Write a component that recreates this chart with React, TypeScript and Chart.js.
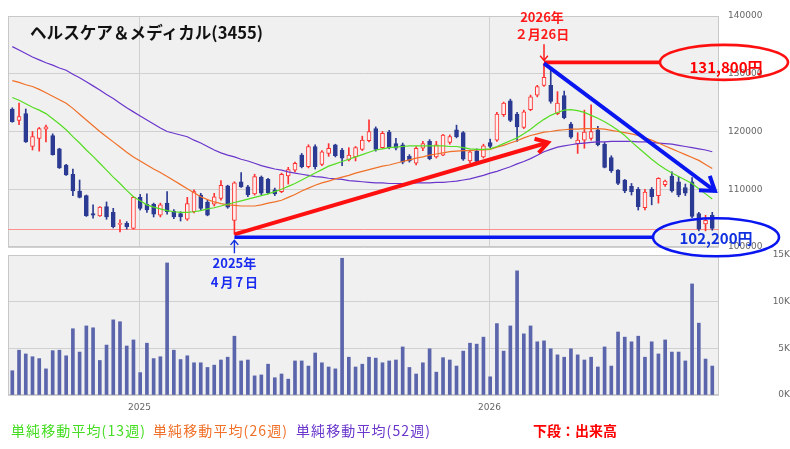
import React, { useEffect, useRef } from 'react';
import { Chart, registerables } from 'chart.js';

Chart.register(...registerables);

// ---- data (weekly candles, index 0 = first week shown) ----
const opens = [123900,121900,123100,117400,118800,120400,119300,117000,114200,112600,
109700,108900,105800,105400,107000,106000,103900,104100,103200,108600,
107400,107400,105500,107600,106200,105800,104800,106100,109000,107800,
107400,108400,110600,104600,111300,110400,109200,112100,111700,109900,
109600,112300,113300,115900,113900,117400,114300,116200,117700,116800,
115100,115600,116900,118400,120500,117200,119900,117900,117700,115700,
114500,117100,118300,115600,115900,118100,120300,119800,114900,116600,
115600,118100,118500,122900,125300,123000,120700,123800,126300,128000,
128000,123100,126200,121300,117900,118500,118800,120300,117800,115500,
113300,111600,110500,110000,106800,110000,108900,110800,112300,111300,
110300,111300,105800,104000,105500];

const highs = [124100,124900,123900,120000,120700,121100,119600,117100,114300,113500,
111600,109000,107300,107000,107800,106700,104700,104400,108700,109100,
109200,107600,107600,109600,106500,106100,108600,109900,109300,108100,
109300,111500,110700,111300,112900,110700,112600,112300,111900,110200,
112800,113800,114700,116200,117700,117700,116700,117900,117800,117100,
117200,117400,119200,122000,120800,120000,120200,118800,118000,116000,
117400,118300,118600,118300,119500,119400,121100,120000,116800,117000,
117800,118700,123300,125100,125600,123300,123700,126300,128000,131800,
130600,126900,127000,121600,119800,123700,124600,120900,118100,115800,
113400,111700,111000,110300,110000,110300,112000,111600,113000,112200,
110900,112000,106000,105500,106000];

const lows = [121600,121200,118100,116800,116600,118200,115900,113600,112400,108900,
108500,105300,105000,105300,104800,103300,102600,103100,103100,106400,
106000,105200,105200,105700,104900,104500,104600,105900,106400,105400,
107100,108100,106700,102200,110300,108700,109000,109000,109200,108900,
109400,110900,113000,113700,113700,113500,114100,115700,115600,114100,
114900,114900,116700,118200,116600,117100,117000,116800,114400,114700,
114200,116700,115100,115400,115800,117800,118900,115000,114600,114500,
115400,117200,118300,122600,121700,118300,120500,123600,126000,127800,
124900,122900,122200,118800,116200,117100,118500,117500,113700,112900,
110800,109400,109000,106400,106400,107300,107600,110500,109500,108700,
108900,105100,102800,102800,102900];

const closes = [121700,122600,118200,119100,120500,120800,116000,113700,112500,109700,
108600,105400,105500,106900,105200,103500,104100,103500,108600,106700,
106400,105700,107300,106100,105200,105200,107500,109600,106700,105500,
108700,110700,106900,111100,110400,109000,112200,109300,109400,109200,
112600,113400,114500,113900,117400,113900,116500,117100,115800,115400,
115900,117200,118500,120000,116900,119700,117200,117100,114700,114900,
117100,117900,115300,117700,119400,119100,119100,115200,116500,114800,
117500,117400,123000,124900,121900,120800,123400,126000,127800,129400,
125200,124900,122400,119000,118500,119900,120000,117700,113800,113200,
111000,109700,109600,107000,109500,108700,111900,111400,109700,109000,
109300,105300,103100,104600,103200];

const volumes = [2600,4800,4400,4100,3900,2800,4750,4800,4200,7100,
4600,7400,7200,3700,5350,8050,7850,5250,5900,2400,
5550,3900,4100,14150,4800,3800,4200,3450,3450,2950,
3200,3750,4050,6300,3650,3750,2050,2150,3300,1850,
2250,1700,3650,3650,3100,4500,3450,3000,2800,14650,
4050,3000,3300,4050,3950,3450,3650,3750,5150,2950,
2250,3450,4950,2450,4000,3750,3100,4700,5550,5450,
6200,1950,7650,4700,7400,13300,6550,7400,5700,5800,
4950,4300,4050,4950,4300,3750,4050,3000,5150,3100,
6750,6200,5700,6300,4050,5700,4400,5900,4600,4600,
3650,11900,7700,3850,3100];

const ma13 = [125900,125400,124800,124200,123700,123100,122200,121300,120300,119100,
118000,116800,115700,114500,113300,112100,111000,109800,108700,108000,
107300,106900,106600,106300,106100,106000,106000,106100,106300,106600,
106800,107100,107400,107700,108000,108300,108600,108900,109200,109600,
110000,110500,111000,111600,112200,112800,113400,114000,114400,114800,
115200,115600,116000,116400,116800,117000,117200,117300,117400,117500,
117500,117500,117500,117500,117500,117400,117400,117200,117000,116900,
116900,117000,117400,117900,118400,118900,119600,120400,121300,122100,
122800,123300,123700,123800,123600,123300,122800,122300,121700,121000,
120200,119300,118200,117200,116200,115200,114300,113500,112800,112200,
111600,111000,110100,109200,108300];

const ma26 = [128800,128500,128100,127800,127300,126700,126100,125500,124900,124000,
123000,122000,121000,120000,119100,118200,117300,116400,115600,114900,
114200,113500,112900,112200,111500,110800,110100,109400,108700,108200,
107800,107500,107300,107200,107100,107100,107100,107300,107600,107800,
108100,108600,109100,109700,110200,110700,111100,111400,111800,112100,
112400,112800,113100,113400,113700,114000,114200,114500,114800,115100,
115400,115600,115900,116100,116300,116500,116600,116700,116700,116800,
116800,116900,117300,117600,118000,118400,118900,119300,119600,119900,
120000,120200,120300,120400,120400,120500,120500,120500,120400,120200,
120000,119800,119600,119300,118900,118500,118000,117500,117000,116500,
116000,115500,115000,114300,113600];

const ma52 = [134700,134100,133500,132900,132400,131900,131500,131000,130600,129900,
129300,128600,127900,127200,126400,125700,124900,124100,123400,122700,
122000,121300,120600,120000,119700,119400,119100,118500,118000,117400,
116800,116300,115900,115600,115200,114900,114500,114100,113800,113500,
113300,113000,112800,112600,112400,112200,112100,111900,111800,111700,
111500,111400,111300,111200,111100,111100,111000,111000,111000,111000,
111100,111100,111100,111200,111200,111300,111400,111600,111800,112100,
112400,112800,113100,113500,113900,114400,114800,115300,115900,116500,
116900,117300,117500,117700,117900,118000,118100,118200,118200,118300,
118300,118300,118300,118200,118200,118100,118000,117900,117800,117600,
117400,117200,117000,116800,116500];

const yearTickPositions = [18.9, 70.9];
const yearTickLabels = ['2025', '2026'];

const TITLE = 'ヘルスケア＆メディカル(3455)';
const legendLabels = ['単純移動平均(13週)', '単純移動平均(26週)', '単純移動平均(52週)'];
const volumeCaption = '下段：出来高';

const peakIndex = 79;
const peakPrice = 131800;
const peakDateLines = ['2026年', '２月26日'];
const peakPriceLabel = '131,800円';
const lowIndex = 33;
const lowPrice = 102200;
const lowDateLines = ['2025年', '4月7日'];
const lowPriceLabel = '102,200円';
const upTrendEnd = { index: 79.6, price: 118100 };
const downTrendEnd = { index: 104.4, price: 109700 };

// ---- styles ----
const UP_LINE = '#ff3030';
const UP_FILL = '#fff0f0';
const DOWN_COLOR = '#2b3a92';
const VOL_COLOR = '#5a65ab';
const MA13_COLOR = '#55dd22';
const MA26_COLOR = '#f07028';
const MA52_COLOR = '#6a36cc';
const GRID = '#d0d0d0';
const PLOT_BG = '#f0f0f0';
const TICK_FONT = { family: 'DejaVu Sans', size: 9 };
const TICK_COLOR = '#666666';
const X_MIN = -0.64;
const X_MAX = 105;
const CJK = '"Noto Sans CJK JP", "Noto Sans", sans-serif';

const idx = opens.map((_, i) => i);
const isUp = (i: number) => closes[i] >= opens[i];

const plotBgPlugin = {
  id: 'plotBg',
  beforeDraw(chart: any) {
    const { ctx, chartArea: a } = chart;
    ctx.save();
    ctx.fillStyle = PLOT_BG;
    ctx.fillRect(a.left, a.top, a.right - a.left, a.bottom - a.top);
    ctx.restore();
  },
  beforeDatasetsDraw(chart: any) {
    const { ctx, chartArea: a } = chart;
    ctx.save();
    ctx.strokeStyle = '#c8c8c8';
    ctx.lineWidth = 1;
    ctx.strokeRect(a.left + 0.5, a.top + 0.5, a.right - a.left - 1, a.bottom - a.top - 1);
    ctx.restore();
  },
};

function chevron(ctx: CanvasRenderingContext2D, tx: number, ty: number, fx: number, fy: number, len: number, spread: number) {
  const ang = Math.atan2(ty - fy, tx - fx);
  ctx.beginPath();
  ctx.moveTo(tx + len * Math.cos(ang + Math.PI - spread), ty + len * Math.sin(ang + Math.PI - spread));
  ctx.lineTo(tx, ty);
  ctx.lineTo(tx + len * Math.cos(ang + Math.PI + spread), ty + len * Math.sin(ang + Math.PI + spread));
  ctx.stroke();
}

const lastPricePlugin = {
  id: 'lastPrice',
  beforeDatasetsDraw(chart: any) {
    const { ctx, chartArea: a, scales } = chart;
    const yy = Math.round(scales.y.getPixelForValue(closes[closes.length - 1])) + 0.5;
    ctx.save();
    ctx.strokeStyle = '#ff9090';
    ctx.lineWidth = 1;
    ctx.beginPath();
    ctx.moveTo(a.left, yy);
    ctx.lineTo(a.right, yy);
    ctx.stroke();
    ctx.restore();
  },
};

const priceAnnotations = {
  id: 'priceAnnotations',
  afterDraw(chart: any) {
    const { ctx, chartArea: a, scales } = chart;
    const px = (v: number) => scales.x.getPixelForValue(v);
    const py = (v: number) => scales.y.getPixelForValue(v);
    const lx = px(lowIndex), ly = py(lowPrice);
    const hx = px(peakIndex), hy = py(peakPrice);
    ctx.save();
    ctx.lineJoin = 'miter';
    ctx.lineCap = 'butt';

    // red up-trend arrow
    const ux = px(upTrendEnd.index), uy = py(upTrendEnd.price);
    ctx.strokeStyle = '#ff1010';
    ctx.lineWidth = 4;
    ctx.beginPath();
    ctx.moveTo(lx, ly);
    ctx.lineTo(ux, uy);
    ctx.stroke();
    chevron(ctx, ux, uy, lx, ly, 14, 0.55);

    // blue low line + ellipse
    const bcx = a.right - 3, bcy = ly + 3;
    ctx.strokeStyle = '#0a16f0';
    ctx.lineWidth = 3.6;
    ctx.beginPath();
    ctx.moveTo(lx, ly + 3);
    ctx.lineTo(bcx - 63, ly + 3);
    ctx.stroke();
    ctx.lineWidth = 2.6;
    ctx.beginPath();
    ctx.ellipse(bcx, bcy, 63, 19, 0, 0, Math.PI * 2);
    ctx.stroke();

    // red peak line + ellipse
    const rcx = a.right + 5, rcy = hy - 1;
    ctx.strokeStyle = '#ff1010';
    ctx.lineWidth = 3.6;
    ctx.beginPath();
    ctx.moveTo(hx, hy - 1);
    ctx.lineTo(rcx - 64, hy - 1);
    ctx.stroke();
    ctx.lineWidth = 2.6;
    ctx.beginPath();
    ctx.ellipse(rcx, rcy, 64, 17.5, 0, 0, Math.PI * 2);
    ctx.stroke();

    // blue down-trend arrow
    const dx = px(downTrendEnd.index), dy = py(downTrendEnd.price);
    ctx.strokeStyle = '#0a16f0';
    ctx.lineWidth = 4;
    ctx.beginPath();
    ctx.moveTo(hx, hy);
    ctx.lineTo(dx, dy);
    ctx.stroke();
    chevron(ctx, dx, dy, hx, hy, 16, 0.6);

    // small pointer arrows
    ctx.lineWidth = 1.4;
    ctx.strokeStyle = '#ff1010';
    ctx.beginPath();
    ctx.moveTo(hx, hy - 19);
    ctx.lineTo(hx, hy - 3);
    ctx.stroke();
    chevron(ctx, hx, hy - 3, hx, hy - 19, 6, 0.7);
    ctx.strokeStyle = '#1030e0';
    ctx.beginPath();
    ctx.moveTo(lx, ly + 19);
    ctx.lineTo(lx, ly + 6);
    ctx.stroke();
    chevron(ctx, lx, ly + 6, lx, ly + 19, 6, 0.7);

    // texts
    ctx.textAlign = 'center';
    ctx.textBaseline = 'middle';
    ctx.fillStyle = '#ff1a1a';
    ctx.font = `bold 13px ${CJK}`;
    ctx.fillText(peakDateLines[0], hx - 2, hy - 46);
    ctx.fillText(peakDateLines[1], hx - 2, hy - 29);
    ctx.font = `bold 15px ${CJK}`;
    ctx.fillStyle = '#ff0000';
    ctx.fillText(peakPriceLabel, rcx + 2, hy + 4);
    ctx.fillStyle = '#1030e0';
    ctx.fillText(lowPriceLabel, bcx, ly + 4);
    ctx.restore();
  },
};

const volumeAnnotations = {
  id: 'volumeAnnotations',
  afterDraw(chart: any) {
    const { ctx, chartArea: a, scales } = chart;
    const lx = scales.x.getPixelForValue(lowIndex);
    ctx.save();
    ctx.textAlign = 'center';
    ctx.textBaseline = 'middle';
    ctx.fillStyle = '#1a2cf0';
    ctx.font = `bold 13px ${CJK}`;
    ctx.fillText(lowDateLines[0], lx, a.top + 8);
    (ctx as any).letterSpacing = '2px';
    ctx.fillText(lowDateLines[1], lx + 1, a.top + 27);
    ctx.restore();
  },
};

function yearTicks(scale: any) {
  scale.ticks = yearTickPositions.map((v) => ({ value: v }));
}

function fitY(s: any) {
  s.width = 71;
  s.paddingTop = 0;
  s.paddingBottom = 0;
}

function fitX(h: number) {
  return (s: any) => {
    s.height = h;
    s.paddingLeft = 0;
    s.paddingRight = 0;
  };
}

export default function App() {
  const priceRef = useRef<HTMLCanvasElement>(null);
  const volRef = useRef<HTMLCanvasElement>(null);

  useEffect(() => {
    const bodyColors = idx.map((i) => (isUp(i) ? UP_FILL : DOWN_COLOR));
    const lineColors = idx.map((i) => (isUp(i) ? UP_LINE : DOWN_COLOR));

    const price = new Chart(priceRef.current as HTMLCanvasElement, {
      type: 'bar',
      data: {
        datasets: [
          { type: 'line', label: legendLabels[0], data: idx.map((i) => ({ x: i, y: ma13[i] })), borderColor: MA13_COLOR, borderWidth: 1.2, pointRadius: 0, order: 0 } as any,
          { type: 'line', label: legendLabels[1], data: idx.map((i) => ({ x: i, y: ma26[i] })), borderColor: MA26_COLOR, borderWidth: 1.2, pointRadius: 0, order: 0 } as any,
          { type: 'line', label: legendLabels[2], data: idx.map((i) => ({ x: i, y: ma52[i] })), borderColor: MA52_COLOR, borderWidth: 1.2, pointRadius: 0, order: 0 } as any,
          { type: 'bar', label: 'body', data: idx.map((i) => ({ x: i, y: [opens[i], closes[i]] })), backgroundColor: bodyColors, borderColor: lineColors, borderWidth: 1, borderSkipped: false, barThickness: 4, grouped: false, order: 1 } as any,
          { type: 'bar', label: 'wick', data: idx.map((i) => ({ x: i, y: [lows[i], highs[i]] })), backgroundColor: lineColors, borderWidth: 0, barThickness: 1, grouped: false, order: 2 } as any,
        ],
      },
      options: {
        animation: false,
        responsive: false,
        events: [],
        layout: { padding: { left: 8, right: 0, top: 16, bottom: 11 } },
        plugins: { legend: { display: false }, tooltip: { enabled: false } },
        scales: {
          x: {
            type: 'linear', min: X_MIN, max: X_MAX, offset: false, bounds: 'data',
            afterBuildTicks: yearTicks,
            afterFit: fitX(0),
            ticks: { display: false },
            grid: { color: GRID, drawTicks: false, offset: false },
            border: { display: false },
          },
          y: {
            type: 'linear', position: 'right', min: 100000, max: 140000,
            afterFit: fitY,
            ticks: { stepSize: 10000, padding: 9, color: TICK_COLOR, font: TICK_FONT, callback: (v: any) => String(v) },
            grid: { color: GRID, drawTicks: false },
            border: { display: false },
          },
        },
      } as any,
      plugins: [plotBgPlugin, lastPricePlugin, priceAnnotations],
    });

    const vol = new Chart(volRef.current as HTMLCanvasElement, {
      type: 'bar',
      data: {
        datasets: [
          { type: 'bar', label: '出来高', data: idx.map((i) => ({ x: i, y: volumes[i] })), backgroundColor: VOL_COLOR, borderWidth: 0, barThickness: 3, grouped: false } as any,
        ],
      },
      options: {
        animation: false,
        responsive: false,
        events: [],
        layout: { padding: { left: 8, right: 0, top: 5, bottom: 34 } },
        plugins: { legend: { display: false }, tooltip: { enabled: false } },
        scales: {
          x: {
            type: 'linear', min: X_MIN, max: X_MAX, offset: false, bounds: 'data',
            afterBuildTicks: yearTicks,
            afterFit: fitX(20),
            ticks: { padding: 7, color: TICK_COLOR, font: TICK_FONT, maxRotation: 0, autoSkip: false, callback: (_v: any, i: number) => yearTickLabels[i] },
            grid: { color: GRID, drawTicks: false, offset: false },
            border: { display: false },
          },
          y: {
            type: 'linear', position: 'right', min: 0, max: 15000,
            afterFit: fitY,
            ticks: { stepSize: 5000, padding: 9, crossAlign: 'far', color: TICK_COLOR, font: TICK_FONT, callback: (v: any) => `${Number(v) / 1000}K` },
            grid: { color: GRID, drawTicks: false },
            border: { display: false },
          },
        },
      } as any,
      plugins: [plotBgPlugin, volumeAnnotations],
    });

    return () => {
      price.destroy();
      vol.destroy();
    };
  }, []);

  const legendStyle = (left: number, color: string, bold = false, spacing = 0): React.CSSProperties => ({
    position: 'absolute', left, top: 423, zIndex: 3, color, whiteSpace: 'nowrap',
    font: `${bold ? 'bold ' : ''}14px ${CJK}`, lineHeight: '14px', letterSpacing: `${spacing}px`,
  });

  return (
    <div style={{ position: 'fixed', left: 0, top: 0, width: 790, height: 449, background: '#ffffff', overflow: 'hidden' }}>
      <canvas ref={volRef} width={790} height={199} style={{ position: 'absolute', left: 0, top: 250, width: 790, height: 199, zIndex: 1 }} />
      <canvas ref={priceRef} width={790} height={258} style={{ position: 'absolute', left: 0, top: 0, width: 790, height: 258, zIndex: 2 }} />
      <div style={{ position: 'absolute', left: 30, top: 24, zIndex: 3, color: '#111', whiteSpace: 'nowrap', font: `bold 16.6px ${CJK}`, lineHeight: '17px' }}>{TITLE}</div>
      <div style={legendStyle(11, '#44dd22', false, 1.1)}>{legendLabels[0]}</div>
      <div style={legendStyle(153, '#f07028', false, 1.1)}>{legendLabels[1]}</div>
      <div style={legendStyle(296, '#6a36cc', false, 1.1)}>{legendLabels[2]}</div>
      <div style={legendStyle(533, '#ff0000', true)}>{volumeCaption}</div>
    </div>
  );
}
